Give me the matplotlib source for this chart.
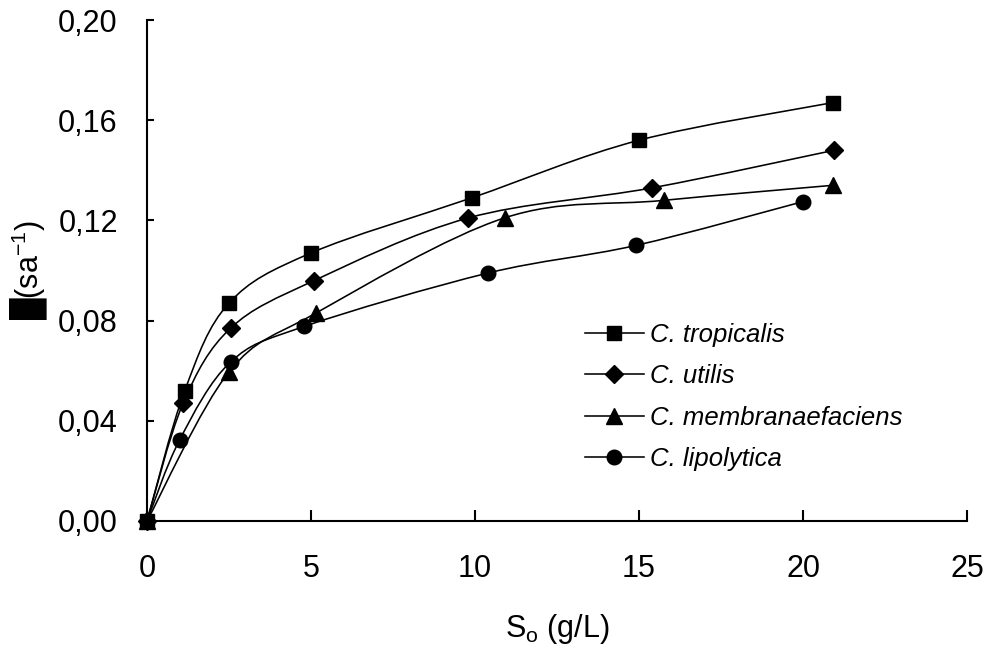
import matplotlib
matplotlib.use('Agg')
import matplotlib.pyplot as plt
from matplotlib.path import Path
from matplotlib.patches import PathPatch
from matplotlib.lines import Line2D
import numpy as np

# data
names = ['C. tropicalis', 'C. utilis', 'C. membranaefaciens', 'C. lipolytica']
markers = ['s', 'D', '^', 'o']
marker_sizes = [10, 9, 11, 10.5]

x_trop = [0, 1.15, 2.5, 5.0, 9.9, 15.0, 20.9]
y_trop = [0, 0.052, 0.087, 0.107, 0.129, 0.152, 0.167]
x_util = [0, 1.1, 2.55, 5.1, 9.8, 15.4, 20.95]
y_util = [0, 0.047, 0.077, 0.096, 0.121, 0.133, 0.148]
x_memb = [0, 2.5, 5.15, 10.9, 15.75, 20.9]
y_memb = [0, 0.0595, 0.083, 0.121, 0.128, 0.134]
x_lipo = [0, 1.0, 2.55, 4.8, 10.4, 14.9, 20.0]
y_lipo = [0, 0.0325, 0.0635, 0.0777, 0.099, 0.110, 0.1275]

xs = [x_trop, x_util, x_memb, x_lipo]
ys = [y_trop, y_util, y_memb, y_lipo]

x_ticks = [0, 5, 10, 15, 20, 25]
y_ticks = [0.00, 0.04, 0.08, 0.12, 0.16, 0.20]
y_ticklabels = ['0,00', '0,04', '0,08', '0,12', '0,16', '0,20']

plt.rcParams.update({
    'font.family': ['Liberation Sans', 'DejaVu Sans'],
    'mathtext.fontset': 'custom',
    'mathtext.rm': 'Liberation Sans',
    'mathtext.it': 'Liberation Sans:italic',
    'axes.linewidth': 1.5,
})


def smooth_path(x, y):
    # Excel style smoothed line: cubic bezier, Catmull-Rom control points
    pts = np.column_stack([x, y]).astype(float)
    n = len(pts)
    verts = [pts[0]]
    codes = [Path.MOVETO]
    for i in range(n - 1):
        p0 = pts[i - 1] if i > 0 else pts[i]
        p1 = pts[i]
        p2 = pts[i + 1]
        p3 = pts[i + 2] if i + 2 < n else pts[i + 1]
        c1 = p1 + (p2 - p0) / 6.0
        c2 = p2 - (p3 - p1) / 6.0
        verts += [c1, c2, p2]
        codes += [Path.CURVE4] * 3
    return Path(verts, codes)


fig = plt.figure(figsize=(9.92, 6.46), dpi=100)
ax = fig.add_axes([147 / 992, 125 / 646, 820 / 992, 501 / 646])

handles = []
for x, y, m, ms, name in zip(xs, ys, markers, marker_sizes, names):
    ax.add_patch(PathPatch(smooth_path(x, y), facecolor='none',
                           edgecolor='black', lw=1.15, zorder=2))
    ax.plot(x, y, ls='none', marker=m, ms=ms, color='black',
            clip_on=False, zorder=3)
    handles.append(Line2D([], [], color='black', lw=1.15, marker=m, ms=ms))

ax.set_xlim(0, 25)
ax.set_ylim(0, 0.20)
ax.spines['top'].set_visible(False)
ax.spines['right'].set_visible(False)

ax.set_xticks(x_ticks)
ax.set_yticks(y_ticks)
ax.set_yticklabels(y_ticklabels)
ax.tick_params(axis='x', direction='in', length=8, width=1.5, pad=24,
               labelsize=22)
ax.tick_params(axis='y', direction='in', length=5, width=1.5, pad=21,
               labelsize=22)

ax.set_xlabel('S$_{\\mathrm{o}}$ (g/L)', fontsize=22)
ax.xaxis.set_label_coords(0.5, -0.182)
ax.set_ylabel('\u2588(sa$^{-1}$)', fontsize=22)
ax.yaxis.set_label_coords(-0.118, 0.5)

ax.legend(handles, names, loc='upper left', bbox_to_anchor=(0.534, 0.395),
          frameon=False, borderpad=0, borderaxespad=0, handlelength=2.3,
          handletextpad=0.25, labelspacing=0.67,
          prop={'style': 'italic', 'size': 18.5})

fig.savefig('out.png', dpi=100)
